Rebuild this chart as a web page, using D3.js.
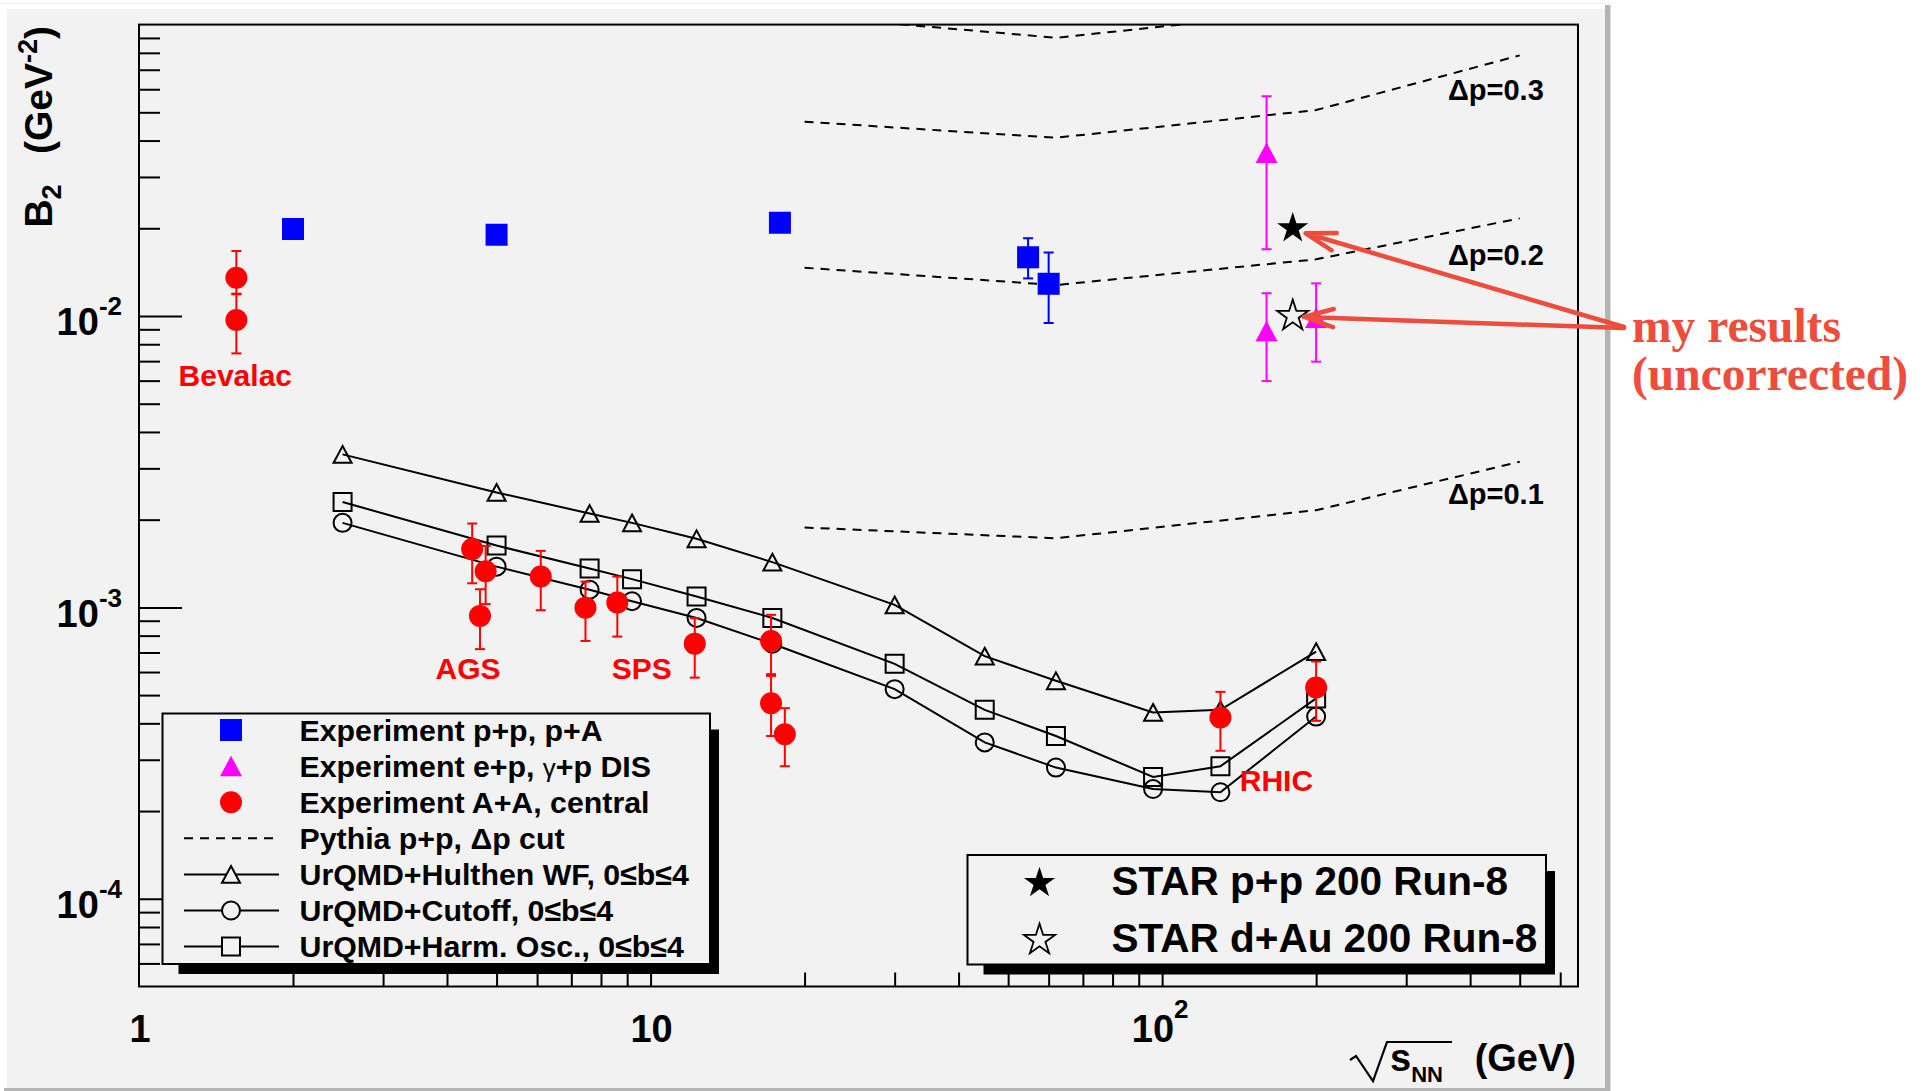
<!DOCTYPE html>
<html><head><meta charset="utf-8">
<script src="https://cdn.jsdelivr.net/npm/d3@7"></script>
<style>
html,body{margin:0;padding:0;background:#fff;}
svg{display:block;}
text{font-family:"Liberation Sans",Arial,Helvetica,sans-serif;font-weight:bold;}
</style></head><body>
<svg id="chart" width="1929" height="1091"></svg>
<script>
// ---------------- data ----------------
const xDomain = [1, 650];
const yDomain = [5e-5, 0.1];

const yMajorTicks = [1e-4, 1e-3, 1e-2];
const yTickExponents = ["-4", "-3", "-2"];
const xMajorTicks = [1, 10, 100];
const xTickBase = ["1", "10", "10"];
const xTickSup = ["", "", "2"];

// UrQMD coalescence curves (central, 0<=b<=4)
const urqmdX   = [2.5, 5.0, 7.6, 9.2, 12.3, 17.3, 30, 45, 62, 96, 130, 200];
const hulthenY = [3.35e-3, 2.48e-3, 2.10e-3, 1.95e-3, 1.72e-3, 1.43e-3, 1.02e-3, 6.8e-4, 5.6e-4, 4.36e-4, 4.45e-4, 7.05e-4];
const cutoffY  = [1.95e-3, 1.38e-3, 1.15e-3, 1.05e-3, 9.2e-4, 7.5e-4, 5.24e-4, 3.44e-4, 2.82e-4, 2.38e-4, 2.32e-4, 4.22e-4];
const harmOscY = [2.30e-3, 1.63e-3, 1.36e-3, 1.25e-3, 1.09e-3, 9.2e-4, 6.4e-4, 4.45e-4, 3.62e-4, 2.62e-4, 2.85e-4, 4.87e-4];

// Experiment p+p, p+A
const ppX  = [2.0, 5.0, 17.9, 54.7, 60];
const ppY  = [0.0199, 0.0190, 0.0209, 0.0159, 0.0129];
const ppHi = [0.0199, 0.0190, 0.0209, 0.0185, 0.0165];
const ppLo = [0.0199, 0.0190, 0.0209, 0.01346, 0.00946];

// Experiment e+p, gamma+p DIS
const epX  = [160, 160, 200];
const epY  = [0.0363, 0.00888, 0.00987];
const epHi = [0.0568, 0.01197, 0.01294];
const epLo = [0.01694, 0.00598, 0.00697];

// Experiment A+A central
const aaX  = [1.55, 1.55, 4.48, 4.76, 4.64, 6.1, 7.46, 8.61, 12.2, 17.2, 17.2, 18.3, 130, 200];
const aaY  = [0.01353, 0.00969, 1.585e-3, 1.33e-3, 9.35e-4, 1.277e-3, 9.98e-4, 1.039e-3, 7.51e-4, 7.67e-4, 4.69e-4, 3.67e-4, 4.19e-4, 5.31e-4];
const aaHi = [0.0167, 0.01193, 1.94e-3, 1.625e-3, 1.154e-3, 1.563e-3, 1.226e-3, 1.276e-3, 9.18e-4, 9.43e-4, 5.90e-4, 4.51e-4, 5.13e-4, 6.52e-4];
const aaLo = [0.01187, 0.00744, 1.21e-3, 1.026e-3, 7.19e-4, 9.78e-4, 7.67e-4, 7.94e-4, 5.74e-4, 5.82e-4, 3.62e-4, 2.85e-4, 3.22e-4, 4.08e-4];

// Pythia p+p with Delta p cut
const pythiaX   = [20, 62, 200, 500];
const pythia01  = [1.88e-3, 1.727e-3, 2.155e-3, 3.16e-3];
const pythia02  = [0.01464, 0.01277, 0.01565, 0.02163];
const pythia03  = [0.04641, 0.0409, 0.0509, 0.0784];
const pythia04  = [0.107, 0.0901, 0.112, 0.16];
const pythiaLabels = ["\u0394p=0.1", "\u0394p=0.2", "\u0394p=0.3"];
const pythiaLabelX = [362, 362, 362];
const pythiaLabelY = [2.26e-3, 0.01502, 0.0553];

// STAR Run-8 (uncorrected)
const starX = [180];
const starPPY = [0.020];
const starDAuY = [0.010];

// region labels
const regionNames = ["Bevalac", "AGS", "SPS", "RHIC"];
const regionX = [1.195, 3.80, 8.40, 141.8];
const regionY = [5.75e-3, 5.69e-4, 5.69e-4, 2.35e-4];

const legend1Labels = ["Experiment p+p, p+A", "Experiment e+p, \u03B3+p DIS", "Experiment A+A, central",
  "Pythia p+p, \u0394p cut", "UrQMD+Hulthen WF, 0\u2264b\u22644", "UrQMD+Cutoff, 0\u2264b\u22644", "UrQMD+Harm. Osc., 0\u2264b\u22644"];
const legend2Labels = ["STAR p+p 200 Run-8", "STAR d+Au 200 Run-8"];

// ---------------- drawing ----------------
const W = 1929, H = 1091;
const M = {left: 139, right: 1578, top: 24.6, bottom: 986.5};
const svg = d3.select("#chart");
const x = d3.scaleLog().domain(xDomain).range([M.left, M.right]);
const y = d3.scaleLog().domain(yDomain).range([M.bottom, M.top]);

const RED = "#ff0000", BLUE = "#0000ff", MAG = "#ff00ff", ARROW = "#ee4c3c", PAD = "#f2f2f2";

// canvas / pad
svg.append("rect").attr("x", 0).attr("y", 0).attr("width", W).attr("height", H).attr("fill", "#fff");
svg.append("rect").attr("x", 0).attr("y", 3).attr("width", 1610).attr("height", 1).attr("fill", "#ebebeb");
svg.append("rect").attr("x", 7).attr("y", 9).attr("width", 1598).attr("height", 1079).attr("fill", PAD);
svg.append("rect").attr("x", 1605).attr("y", 5).attr("width", 5.5).attr("height", 1086).attr("fill", "#b4b4b4");
svg.append("rect").attr("x", 4).attr("y", 1088).attr("width", 1606).attr("height", 3).attr("fill", "#b4b4b4");

// custom marker shapes
const triUp = {draw(c, s) { const h = s * 0.93; c.moveTo(0, -h / 2); c.lineTo(s / 2, h / 2); c.lineTo(-s / 2, h / 2); c.closePath(); }};
const sqr = {draw(c, s) { c.rect(-s / 2, -s / 2, s, s); }};
const circ = {draw(c, s) { c.moveTo(s / 2, 0); c.arc(0, 0, s / 2, 0, 2 * Math.PI); }};
const sym = (t, s) => d3.symbol().type(t).size(s)();

// clip
svg.append("defs").append("clipPath").attr("id", "pclip").append("rect")
  .attr("x", M.left).attr("y", M.top).attr("width", M.right - M.left).attr("height", M.bottom - M.top);

// axes ticks
const allY = y.ticks().filter(v => v > yDomain[0] * 1.01 && v < yDomain[1] * 0.99);
const yMinor = allY.filter(v => !yMajorTicks.some(m => Math.abs(m - v) / m < 1e-6));
const allX = x.ticks().filter(v => v > xDomain[0] * 1.01 && v < xDomain[1]);
const xMinor = allX.filter(v => !xMajorTicks.some(m => Math.abs(m - v) / m < 1e-6));

function styleAxis(g) { g.select(".domain").remove(); g.selectAll("line").attr("stroke", "#000").attr("stroke-width", 2); g.selectAll("text").remove(); }
svg.append("g").attr("transform", `translate(${M.left},0)`)
  .call(d3.axisLeft(y).tickValues(yMinor).tickSizeInner(-21).tickSizeOuter(0)).call(styleAxis);
svg.append("g").attr("transform", `translate(${M.left},0)`)
  .call(d3.axisLeft(y).tickValues(yMajorTicks).tickSizeInner(-43).tickSizeOuter(0)).call(styleAxis);
svg.append("g").attr("transform", `translate(0,${M.bottom})`)
  .call(d3.axisBottom(x).tickValues(xMinor).tickSizeInner(-14).tickSizeOuter(0)).call(styleAxis);
svg.append("g").attr("transform", `translate(0,${M.bottom})`)
  .call(d3.axisBottom(x).tickValues(xMajorTicks.filter(v => v > 1)).tickSizeInner(-29).tickSizeOuter(0)).call(styleAxis);

// tick labels
yMajorTicks.forEach((v, i) => {
  const t = svg.append("text").attr("x", 122).attr("y", y(v) + 19.5).attr("text-anchor", "end").attr("font-size", 38);
  t.append("tspan").text("10");
  t.append("tspan").attr("dy", -20).attr("font-size", 26).text(yTickExponents[i]);
});
xMajorTicks.forEach((v, i) => {
  const t = svg.append("text").attr("x", x(v) + (xTickSup[i] ? -2 : 1)).attr("y", 1042).attr("text-anchor", "middle").attr("font-size", 38);
  t.append("tspan").text(xTickBase[i]);
  if (xTickSup[i]) t.append("tspan").attr("dy", -24).attr("font-size", 26).text(xTickSup[i]);
});

// axis titles
svg.append("text").attr("x", 1576).attr("y", 1071).attr("text-anchor", "end").attr("font-size", 38).text("(GeV)");
const xs = svg.append("text").attr("x", 1390).attr("y", 1071).attr("font-size", 38);
xs.append("tspan").text("s");
xs.append("tspan").attr("dy", 11).attr("font-size", 22).text("NN");
// radical sign of sqrt(s_NN)
svg.append("path").attr("d", "M1350,1060 L1356,1056 L1373,1081 L1387,1042 L1452,1042")
  .attr("fill", "none").attr("stroke", "#000").attr("stroke-width", 2.2).attr("stroke-linejoin", "miter");

const yt = svg.append("text").attr("transform", "translate(52,26) rotate(-90)").attr("text-anchor", "end").attr("font-size", 39);
yt.append("tspan").text("B");
yt.append("tspan").attr("dy", 9).attr("font-size", 27).text("2");
yt.append("tspan").attr("dy", -9).text("\u2002 (GeV");
yt.append("tspan").attr("dy", -15).attr("font-size", 27).text("-2");
yt.append("tspan").attr("dy", 15).text(")");

// plot content
const plot = svg.append("g").attr("clip-path", "url(#pclip)");
const line = d3.line().x(d => x(d[0])).y(d => y(d[1]));

// Pythia dashed
[pythia01, pythia02, pythia03, pythia04].forEach(arr => {
  plot.append("path").attr("d", line(pythiaX.map((v, i) => [v, arr[i]])))
    .attr("fill", "none").attr("stroke", "#000").attr("stroke-width", 2).attr("stroke-dasharray", "9,7");
});
pythiaLabels.forEach((s, i) => {
  svg.append("text").attr("x", x(pythiaLabelX[i])).attr("y", y(pythiaLabelY[i])).attr("font-size", 29).text(s);
});

// UrQMD curves
[[hulthenY, triUp], [cutoffY, circ], [harmOscY, sqr]].forEach(([arr, shape]) => {
  const pts = urqmdX.map((v, i) => [v, arr[i]]);
  plot.append("path").attr("d", line(pts)).attr("fill", "none").attr("stroke", "#000").attr("stroke-width", 2);
  plot.selectAll(null).data(pts).join("path")
    .attr("transform", d => `translate(${x(d[0])},${y(d[1])})`)
    .attr("d", sym(shape, 18)).attr("fill", "none").attr("stroke", "#000").attr("stroke-width", 2);
});

// error bars + filled markers
function errSeries(xs, ys, hi, lo, color, shape, size) {
  const g = plot.append("g");
  xs.forEach((v, i) => {
    if (Math.abs(hi[i] - lo[i]) < 1e-12) return;
    const cx = x(v), y1 = y(hi[i]), y2 = y(lo[i]);
    g.append("line").attr("x1", cx).attr("x2", cx).attr("y1", y1).attr("y2", y2).attr("stroke", color).attr("stroke-width", 2);
    [y1, y2].forEach(yy => g.append("line").attr("x1", cx - 5).attr("x2", cx + 5).attr("y1", yy).attr("y2", yy).attr("stroke", color).attr("stroke-width", 2));
  });
  g.selectAll(null).data(xs.map((v, i) => [v, ys[i]])).join("path")
    .attr("transform", d => `translate(${x(d[0])},${y(d[1])})`)
    .attr("d", sym(shape, size)).attr("fill", color);
}
errSeries(ppX, ppY, ppHi, ppLo, BLUE, sqr, 22);
errSeries(epX, epY, epHi, epLo, MAG, triUp, 22);
errSeries(aaX, aaY, aaHi, aaLo, RED, circ, 22);

// STAR stars
plot.append("path").attr("transform", `translate(${x(starX[0])},${y(starPPY[0])})`)
  .attr("d", d3.symbol().type(d3.symbolStar).size(300)()).attr("fill", "#000");
plot.append("path").attr("transform", `translate(${x(starX[0])},${y(starDAuY[0])})`)
  .attr("d", d3.symbol().type(d3.symbolStar).size(300)()).attr("fill", "none").attr("stroke", "#000").attr("stroke-width", 1.8);

// region labels
regionNames.forEach((s, i) => {
  svg.append("text").attr("x", x(regionX[i])).attr("y", y(regionY[i])).attr("fill", RED).attr("font-size", 30).text(s);
});

// frame
svg.append("rect").attr("x", M.left).attr("y", M.top).attr("width", M.right - M.left).attr("height", M.bottom - M.top)
  .attr("fill", "none").attr("stroke", "#000").attr("stroke-width", 2);

// legends
function pave(x1, y1, x2, y2) {
  svg.append("rect").attr("x", x1 + 16).attr("y", y1 + 16).attr("width", x2 - x1 - 7).attr("height", y2 - y1 - 6).attr("fill", "#000");
  svg.append("rect").attr("x", x1).attr("y", y1).attr("width", x2 - x1).attr("height", y2 - y1)
    .attr("fill", PAD).attr("stroke", "#000").attr("stroke-width", 2);
}
pave(162.5, 713.5, 710, 964);
const L1 = {mx: 231, lx1: 184, lx2: 279, tx: 299.5, y0: 730, dy: 36.1};
legend1Labels.forEach((s, i) => {
  const cy = L1.y0 + i * L1.dy;
  const t = svg.append("text").attr("x", L1.tx).attr("y", cy + 10.5).attr("font-size", 30.3);
  if (s.includes("\u03B3")) {
    const parts = s.split("\u03B3");
    t.append("tspan").text(parts[0]);
    t.append("tspan").attr("font-weight", "normal").attr("font-size", 26).text("\u03B3");
    t.append("tspan").text(parts[1]);
  } else t.text(s);
});
const lg = svg.append("g");
const lrow = i => L1.y0 + i * L1.dy;
lg.append("path").attr("transform", `translate(${L1.mx},${lrow(0)})`).attr("d", sym(sqr, 22)).attr("fill", BLUE);
lg.append("path").attr("transform", `translate(${L1.mx},${lrow(1)})`).attr("d", sym(triUp, 22)).attr("fill", MAG);
lg.append("path").attr("transform", `translate(${L1.mx},${lrow(2)})`).attr("d", sym(circ, 22)).attr("fill", RED);
lg.append("line").attr("x1", L1.lx1).attr("x2", L1.lx2).attr("y1", lrow(3)).attr("y2", lrow(3))
  .attr("stroke", "#000").attr("stroke-width", 2).attr("stroke-dasharray", "9,7");
[triUp, circ, sqr].forEach((shape, k) => {
  const cy = lrow(4 + k);
  lg.append("line").attr("x1", L1.lx1).attr("x2", L1.lx2).attr("y1", cy).attr("y2", cy).attr("stroke", "#000").attr("stroke-width", 2);
  lg.append("path").attr("transform", `translate(${L1.mx},${cy})`).attr("d", sym(shape, 18)).attr("fill", PAD).attr("stroke", "#000").attr("stroke-width", 2);
});

pave(967.5, 855, 1546, 964.5);
legend2Labels.forEach((s, i) => {
  const cy = 883 + i * 57;
  svg.append("text").attr("x", 1111.5).attr("y", cy + 12).attr("font-size", 40.5).text(s);
  const p = svg.append("path").attr("transform", `translate(1039.5,${cy})`).attr("d", d3.symbol().type(d3.symbolStar).size(300)());
  if (i === 0) p.attr("fill", "#000"); else p.attr("fill", "none").attr("stroke", "#000").attr("stroke-width", 1.8);
});

// annotation: "my results (uncorrected)" with arrows
const note = svg.append("text").attr("x", 1632).attr("y", 342).attr("fill", ARROW)
  .style("font-family", "'Liberation Serif','Times New Roman',serif").attr("font-size", 47.5);
note.append("tspan").attr("x", 1632).text("my results");
note.append("tspan").attr("x", 1632).attr("dy", 48).text("(uncorrected)");

function arrow(x0, y0, x1, y1) {
  const a = Math.atan2(y0 - y1, x0 - x1), L = 31, da = 17 * Math.PI / 180;
  const p = d3.path();
  p.moveTo(x0, y0); p.lineTo(x1, y1);
  p.moveTo(x1 + L * Math.cos(a + da), y1 + L * Math.sin(a + da)); p.lineTo(x1, y1);
  p.lineTo(x1 + L * Math.cos(a - da), y1 + L * Math.sin(a - da));
  svg.append("path").attr("d", p.toString()).attr("fill", "none").attr("stroke", ARROW)
    .attr("stroke-width", 4.5).attr("stroke-linecap", "round").attr("stroke-linejoin", "round");
}
arrow(1624, 327, x(starX[0]) + 13, y(starPPY[0]) + 5);
arrow(1624, 328, x(starX[0]) + 11, y(starDAuY[0]) + 1);
</script>
</body></html>
